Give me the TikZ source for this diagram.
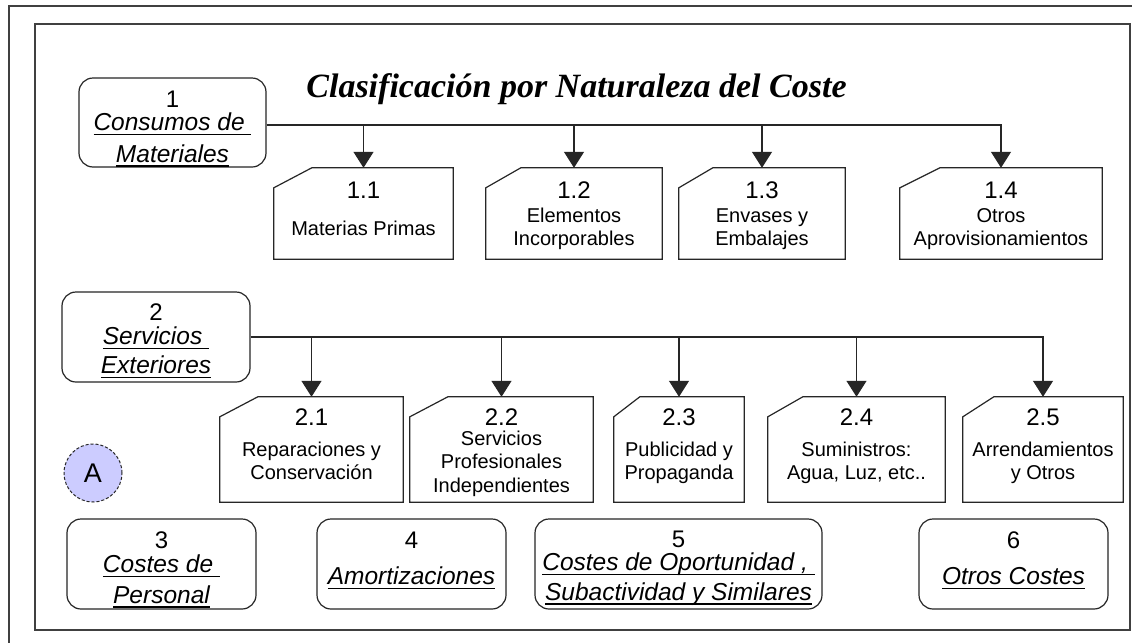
\documentclass[tikz,border=0pt]{standalone}
\usepackage{fontspec}
\setmainfont{Liberation Sans}
\newfontfamily\titlefont{Liberation Serif}
\usetikzlibrary{arrows.meta}
\definecolor{linec}{HTML}{262626}
\definecolor{framec}{HTML}{404040}
\definecolor{lav}{HTML}{CCCCFF}
\newsavebox\ulbox
\newcommand\myul[2][1pt]{\sbox\ulbox{#2}\rlap{\rule[-4.5pt]{\wd\ulbox}{#1}}\usebox\ulbox}
\tikzset{
  catbox/.style={draw=linec, line width=1.2pt, rounded corners=14pt, inner sep=0pt},
  cardbox/.style={draw=none, inner sep=0pt},
  num/.style={font=\fontsize{24}{24}\selectfont, anchor=base, inner sep=0pt},
  body/.style={font=\fontsize{20}{22.5}\selectfont, align=center, anchor=base, inner sep=0pt},
  cat/.style={font=\fontsize{24.5}{30}\selectfont\itshape, align=center, anchor=base, inner sep=0pt},
  conn/.style={line width=1.2pt, draw=linec},
  arr/.style={conn, -{Triangle[width=20pt,length=16pt]}},
  frame/.style={line width=2pt, draw=framec},
}
\newcommand\cardshape[2]{\draw[conn] ([yshift=-20pt]#1.north west) -- ([xshift=#2pt]#1.north west) -- (#1.north east) -- (#1.south east) -- (#1.south west) -- cycle;}
\begin{document}
\begin{tikzpicture}[x=1pt,y=-1pt]
\useasboundingbox (0,0) rectangle (1132,643);
\fill[white] (0,0) rectangle (1132,643);
% frames
\draw[frame] (1132,6) -- (9,6) -- (9,643);
\draw[frame] (35,24) rectangle (1130,630);
% title
\node[anchor=base, inner sep=0pt, font=\titlefont\fontsize{34}{34}\selectfont\bfseries\itshape] (title) at (576.5,97) {Clasificación por Naturaleza del Coste};
% category boxes
\node[catbox, minimum width=187pt, minimum height=89pt] (b1) at (172.5,122.5) {};
\node[catbox, minimum width=188pt, minimum height=90pt] (b2) at (156,337) {};
\node[catbox, minimum width=189pt, minimum height=90pt] (b3) at (161.5,564) {};
\node[catbox, minimum width=189pt, minimum height=90pt] (b4) at (411.5,564) {};
\node[catbox, minimum width=287pt, minimum height=90pt] (b5) at (678.5,564) {};
\node[catbox, minimum width=189pt, minimum height=90pt] (b6) at (1013.5,564) {};
% category texts (base = baseline of last line)
\node[num] (n1) at (172.5,107) {1};
\node[cat] (t1) at (172.5,162) {\myul{Consumos de\ }\\[2pt]\myul[2pt]{Materiales}};
\node[num] (n2) at (156,320) {2};
\node[cat] (t2) at (156,373) {\myul{Servicios\ }\\[-1pt]\myul{Exteriores}};
\node[num] (n3) at (161.5,548) {3};
\node[cat] (t3) at (161.5,603) {\myul{Costes de\ }\\[1pt]\myul[2pt]{Personal}};
\node[num] (n4) at (411.5,548) {4};
\node[cat] (t4) at (411.5,584) {\myul{Amortizaciones}};
\node[num] (n5) at (678.5,547) {5};
\node[cat] (t5) at (678.5,600) {\myul{Costes de Oportunidad ,\ }\\\myul[2pt]{Subactividad y Similares}};
\node[num] (n6) at (1013.5,548) {6};
\node[cat] (t6) at (1013.5,584) {\myul{Otros Costes}};
% cards level 1
\node[cardbox, minimum width=179pt, minimum height=91pt] (c11) at (363.5,213.5) {};
\node[cardbox, minimum width=176pt, minimum height=91pt] (c12) at (574,213.5) {};
\node[cardbox, minimum width=166pt, minimum height=91pt] (c13) at (762,213.5) {};
\node[cardbox, minimum width=202pt, minimum height=91pt] (c14) at (1001,213.5) {};
\cardshape{c11}{38}
\cardshape{c12}{35}
\cardshape{c13}{34}
\cardshape{c14}{40}
\node[num] (m11) at (363.5,198) {1.1};
\node[body] (s11) at (363.5,235) {Materias Primas};
\node[num] (m12) at (574,198) {1.2};
\node[body] (s12) at (574,245) {Elementos\\Incorporables};
\node[num] (m13) at (762,198) {1.3};
\node[body] (s13) at (762,245) {Envases y\\Embalajes};
\node[num] (m14) at (1001,198) {1.4};
\node[body] (s14) at (1001,245) {Otros\\Aprovisionamientos};
% cards level 2
\node[cardbox, minimum width=183pt, minimum height=105pt] (c21) at (311.5,449.5) {};
\node[cardbox, minimum width=183pt, minimum height=105pt] (c22) at (501.5,449.5) {};
\node[cardbox, minimum width=130pt, minimum height=105pt] (c23) at (679,449.5) {};
\node[cardbox, minimum width=177pt, minimum height=105pt] (c24) at (856.5,449.5) {};
\node[cardbox, minimum width=160pt, minimum height=105pt] (c25) at (1043,449.5) {};
\cardshape{c21}{38}
\cardshape{c22}{38}
\cardshape{c23}{26}
\cardshape{c24}{35}
\cardshape{c25}{31}
\node[num] (m21) at (311.5,425) {2.1};
\node[body] (s21) at (311.5,479) {Reparaciones y\\Conservación};
\node[num] (m22) at (501.5,425) {2.2};
\node[body, font=\fontsize{20}{23.5}\selectfont] (s22) at (501.5,492) {Servicios\\Profesionales\\Independientes};
\node[num] (m23) at (679,425) {2.3};
\node[body] (s23) at (679,479) {Publicidad y\\Propaganda};
\node[num] (m24) at (856.5,425) {2.4};
\node[body] (s24) at (856.5,479) {Suministros:\\Agua, Luz, etc..};
\node[num] (m25) at (1043,425) {2.5};
\node[body] (s25) at (1043,479) {Arrendamientos\\y Otros};
% circle A
\node[circle, draw=linec, line width=1pt, dash pattern=on 3pt off 2pt, fill=lav, minimum size=58pt, inner sep=0pt, font=\fontsize{27}{27}\selectfont] (A) at (93,473) {A};
% connectors level 1
\coordinate (bus1) at (1001,125);
\draw[arr] (b1.east |- bus1) -| (c14.north);
\draw[arr] (c11.north |- bus1) -- (c11.north);
\draw[arr] (c12.north |- bus1) -- (c12.north);
\draw[arr] (c13.north |- bus1) -- (c13.north);
% connectors level 2
\draw[arr] (b2.east) -| (c25.north);
\draw[arr] (c21.north |- b2.east) -- (c21.north);
\draw[arr] (c22.north |- b2.east) -- (c22.north);
\draw[arr] (c23.north |- b2.east) -- (c23.north);
\draw[arr] (c24.north |- b2.east) -- (c24.north);
\end{tikzpicture}
\end{document}
